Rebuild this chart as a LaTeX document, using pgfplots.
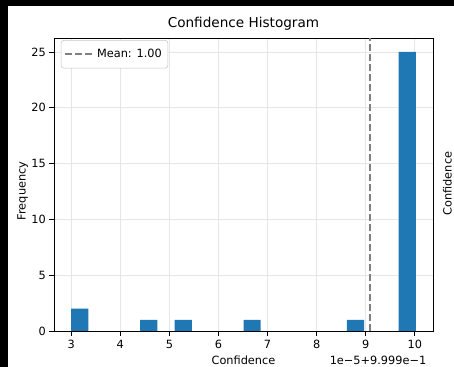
\documentclass[border=0pt]{standalone}
\usepackage{pgfplots}
\pgfplotsset{compat=1.18}
\usepackage{fontspec}
\setmainfont{DejaVu Sans}
\definecolor{mplblue}{HTML}{1F77B4}
\definecolor{gridc}{HTML}{E6E6E6}
\newcommand{\sm}{\fontsize{8.5}{10}\selectfont}
\begin{document}
\begin{tikzpicture}
\path[use as bounding box] (0,0) rectangle (340.5pt,275.25pt);
\clip (0,0) rectangle (340.5pt,275.25pt);
\fill[white] (0,0) rectangle (340.5pt,275.25pt);
\begin{axis}[
  at={(40.5pt,27pt)}, anchor=south west,
  scale only axis, width=284.25pt, height=219.75pt,
  xmin=2.649, xmax=10.371, ymin=0, ymax=26.25,
  xtick={3,4,5,6,7,8,9,10},
  ytick={0,5,10,15,20,25},
  tick align=outside, major tick length=3.65pt,
  tick pos=left,
  grid=major, major grid style={gridc, line width=0.6pt},
  axis line style={line width=0.6pt, black},
  tick style={line width=0.6pt, black},
  /pgf/number format/assume math mode=true,
  ticklabel style={font=\sm},
  xticklabel style={yshift=0.5pt},
  yticklabel style={xshift=1pt},
  legend style={at={(0.018,0.993)}, anchor=north west, draw=gray!45, rounded corners=2pt,
    font=\sm, inner xsep=2.5pt, inner ysep=4.5pt},
  legend cell align=left,
  legend image code/.code={\draw[#1] (0pt,0pt) -- (16.5pt,0pt); \path (0pt,0pt) -- (21pt,0pt);},
]
\addplot[ybar, bar width=0.351, bar shift=0pt, fill=mplblue, draw=none, forget plot]
  coordinates {(3.1755,2) (4.5795,1) (5.2815,1) (6.6855,1) (8.7915,1) (9.8445,25)};
\addplot[gray, line width=1.5pt, dash pattern=on 5.25pt off 2.25pt]
  coordinates {(9.08,0) (9.08,26.25)};
\addlegendentry{Mean: 1.00}
\end{axis}
\node[font=\fontsize{10.2}{12}\selectfont] at (182.6pt,257.25pt) {Confidence Histogram};
\node[font=\sm] at (182.6pt,5.25pt) {Confidence};
\node[font=\sm, anchor=east] at (323.25pt,5.25pt) {1e−5+9.999e−1};
\node[font=\sm, rotate=90] at (17pt,132pt) {Frequency};
\node[font=\sm, rotate=90] at (335.5pt,137.6pt) {Confidence};
\fill[black] (0,270.75pt) rectangle (340.5pt,275.25pt);
\fill[black] (0,0) rectangle (6pt,275.25pt);
\end{tikzpicture}
\end{document}
